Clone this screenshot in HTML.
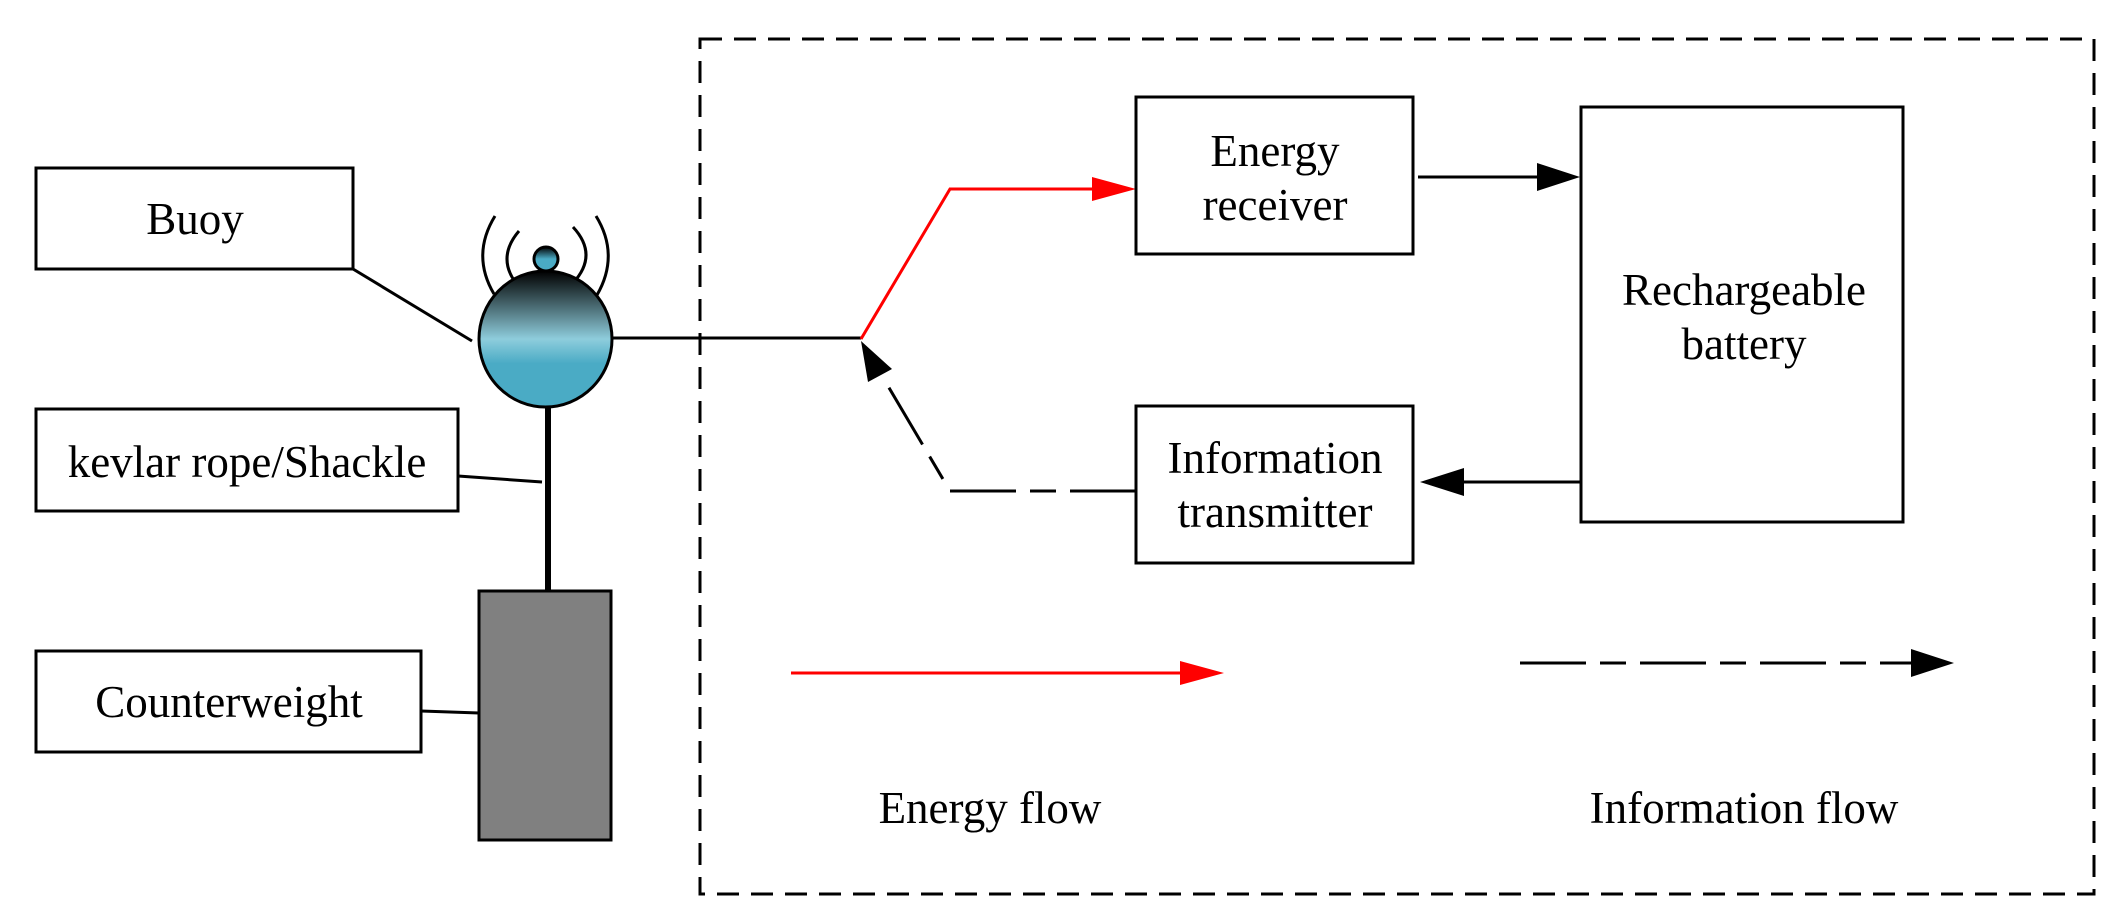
<!DOCTYPE html>
<html><head><meta charset="utf-8"><style>
html,body{margin:0;padding:0;background:#fff;}
svg{display:block;}
text{font-family:"Liberation Serif",serif;font-size:45px;fill:#000;}
</style></head><body>
<svg width="2118" height="924" viewBox="0 0 2118 924" xmlns="http://www.w3.org/2000/svg">
<defs>
<linearGradient id="g" x1="0" y1="0" x2="0" y2="1">
<stop offset="0" stop-color="#000"/>
<stop offset="0.5" stop-color="#8ecddc"/>
<stop offset="0.68" stop-color="#4aabc5"/>
<stop offset="1" stop-color="#4aabc5"/>
</linearGradient>
<linearGradient id="g2" x1="0" y1="0" x2="0" y2="1">
<stop offset="0" stop-color="#000"/>
<stop offset="0.5" stop-color="#4aabc5"/>
<stop offset="1" stop-color="#4aabc5"/>
</linearGradient>
</defs>
<rect x="700" y="39" width="1394" height="855" fill="none" stroke="#000" stroke-width="3" stroke-dasharray="22,12"/>
<rect x="36" y="168" width="317" height="101" fill="none" stroke="#000" stroke-width="3"/>
<text x="195" y="234" text-anchor="middle">Buoy</text>
<rect x="36" y="409" width="422" height="102" fill="none" stroke="#000" stroke-width="3"/>
<text x="247" y="477" text-anchor="middle">kevlar rope/Shackle</text>
<rect x="36" y="651" width="385" height="101" fill="none" stroke="#000" stroke-width="3"/>
<text x="229" y="717" text-anchor="middle">Counterweight</text>
<line x1="353" y1="269" x2="472" y2="341" stroke="#000" stroke-width="3"/>
<line x1="458" y1="476" x2="542" y2="482" stroke="#000" stroke-width="3"/>
<line x1="421" y1="711" x2="479" y2="713" stroke="#000" stroke-width="3"/>
<line x1="548" y1="405" x2="548" y2="592" stroke="#000" stroke-width="6"/>
<rect x="479" y="591" width="132" height="249" fill="#808080" stroke="#000" stroke-width="3"/>
<g fill="none" stroke="#000" stroke-width="3">
<path d="M495,216 Q471,255 494,294"/>
<path d="M519,231 Q495,259 519,287"/>
<path d="M596,216 Q620,255 597,295"/>
<path d="M573,227 Q599,255 573,283"/>
</g>
<circle cx="546" cy="259" r="12" fill="url(#g2)" stroke="#000" stroke-width="3"/>
<ellipse cx="545.5" cy="339" rx="66.5" ry="68" fill="url(#g)" stroke="#000" stroke-width="3"/>
<line x1="612" y1="338" x2="861" y2="338" stroke="#000" stroke-width="3"/>
<polyline points="861,339 950,189 1095,189" fill="none" stroke="#f00" stroke-width="3"/>
<polygon points="1092,177 1136,189 1092,201" fill="#f00"/>
<rect x="1136" y="97" width="277" height="157" fill="none" stroke="#000" stroke-width="3"/>
<text x="1275" y="166" text-anchor="middle">Energy</text>
<text x="1275" y="220" text-anchor="middle">receiver</text>
<line x1="1418" y1="177" x2="1540" y2="177" stroke="#000" stroke-width="3"/>
<polygon points="1537,163 1580,177 1537,191" fill="#000"/>
<rect x="1581" y="107" width="322" height="415" fill="none" stroke="#000" stroke-width="3"/>
<text x="1744" y="305" text-anchor="middle">Rechargeable</text>
<text x="1744" y="359" text-anchor="middle">battery</text>
<line x1="1581" y1="482" x2="1460" y2="482" stroke="#000" stroke-width="3"/>
<polygon points="1464,468 1420,482 1464,496" fill="#000"/>
<rect x="1136" y="406" width="277" height="157" fill="none" stroke="#000" stroke-width="3"/>
<text x="1275" y="473" text-anchor="middle">Information</text>
<text x="1275" y="527" text-anchor="middle">transmitter</text>
<polyline points="1136,491 950,491 885,381" fill="none" stroke="#000" stroke-width="3" stroke-dasharray="66,14,26,14"/>
<polygon points="861,341 892,369 868,382" fill="#000"/>
<line x1="791" y1="673" x2="1185" y2="673" stroke="#f00" stroke-width="3"/>
<polygon points="1180,661 1224,673 1180,685" fill="#f00"/>
<line x1="1520" y1="663" x2="1914" y2="663" stroke="#000" stroke-width="3" stroke-dasharray="66,14,26,14"/>
<polygon points="1911,649 1954,663 1911,677" fill="#000"/>
<text x="990" y="823" text-anchor="middle">Energy flow</text>
<text x="1744" y="823" text-anchor="middle">Information flow</text>
</svg>
</body></html>
